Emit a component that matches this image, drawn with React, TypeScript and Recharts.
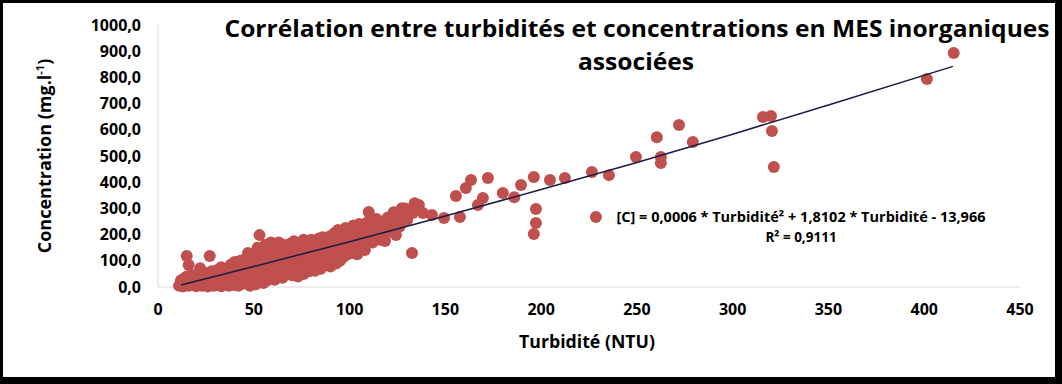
import { ScatterChart, Scatter, XAxis, YAxis } from "recharts";

// points are [turbidity (NTU), concentration (mg/l)]
const denseCluster: [number, number][] = [
  [11, 5], [12, 15], [12, 25], [13, 2], [13, 30], [14, 10], [14, 20], [15, 118], [15, 40], [16, 5],
  [16, 84], [17, 15], [17, 30], [18, 8], [18, 45], [19, 20], [20, 3], [20, 35],
  [21, 12], [21, 50], [22, 72], [22, 25], [23, 5], [23, 40], [24, 18], [24, 55], [25, 8], [25, 30],
  [26, 45], [26, 2], [27, 118], [27, 20], [28, 60], [28, 10], [29, 35], [29, 5], [30, 50], [30, 22],
  [31, 8], [31, 65], [32, 30], [32, 45], [33, 3], [33, 75], [34, 20], [34, 55], [35, 40], [35, 10],
  [36, 70], [36, 28], [37, 5], [37, 50], [38, 85], [38, 18], [39, 60], [39, 35], [40, 8], [40, 95],
  [41, 45], [41, 20], [42, 75], [42, 5], [43, 100], [43, 55], [44, 30], [44, 12], [45, 85], [45, 60],
  [46, 110], [46, 40], [47, 20], [47, 130], [48, 70], [48, 5], [49, 95], [49, 50], [50, 30], [50, 120],
  [51, 10], [51, 80], [52, 150], [52, 60], [53, 198], [53, 105], [54, 35], [54, 130], [55, 75], [55, 15],
  [56, 160], [56, 95], [57, 50], [57, 25], [58, 140], [58, 115], [59, 70], [59, 170], [60, 40], [60, 100],
  [61, 28], [61, 150], [62, 125], [62, 80], [63, 60], [63, 170], [64, 105], [64, 140], [65, 35], [65, 90],
  [66, 160], [66, 115], [67, 70], [67, 130], [68, 55], [68, 150], [69, 100], [69, 165], [70, 45], [70, 120],
  [71, 85], [71, 175], [72, 140], [72, 60], [73, 110], [73, 40], [74, 160], [74, 95], [75, 130], [75, 70],
  [76, 180], [76, 50], [77, 115], [77, 150], [78, 85], [78, 170], [79, 130], [79, 60], [80, 100], [80, 180],
  [81, 145], [81, 75], [82, 120], [82, 62], [83, 165], [83, 95], [84, 185], [84, 135], [85, 70], [85, 110],
  [86, 160], [86, 190], [87, 85], [87, 140], [88, 120], [88, 175], [89, 100], [89, 155], [90, 78], [90, 195],
  [91, 130], [91, 170], [92, 110], [92, 205], [93, 150], [93, 90], [94, 185], [94, 218], [95, 130], [95, 100],
  [96, 165], [96, 200], [97, 140], [97, 115], [98, 225], [98, 180], [99, 160], [99, 125], [100, 195], [100, 145],
  [101, 170], [101, 215], [102, 130], [102, 235], [103, 190], [103, 155], [104, 210], [104, 125], [105, 175], [105, 240],
  [106, 200], [106, 150], [107, 220], [107, 185], [108, 165], [109, 245], [109, 205], [110, 180], [110, 230],
  [111, 200], [111, 255], [112, 220], [112, 170], [113, 240], [114, 195], [114, 260], [115, 215], [116, 180],
  [117, 250], [118, 230], [119, 205], [120, 265],
  [121, 240], [122, 215], [123, 285], [125, 250], [126, 230], [128, 270], [129, 300], [130, 255], [131, 290], [134, 320],
];

const spreadPoints: [number, number][] = [
  [101.8, 198], [108, 141], [110, 286], [107, 237], [115.9, 237], [124.7, 237], [117.4, 187], [118.5, 176],
  [124.2, 198], [123.7, 267], [127.3, 301], [132.6, 130], [133, 282], [136.2, 313], [138.3, 282], [143, 275],
  [149.3, 263], [155.5, 347], [157.6, 267], [160.7, 378], [163.4, 408], [167, 313], [169.6, 340], [172.2, 416],
  [180, 359], [186, 343], [189.5, 389], [196.2, 420], [197.3, 298], [197.3, 244], [196.2, 202], [204.6, 408],
  [212.4, 416], [226.5, 439], [228.6, 267], [235.4, 427], [249.5, 496], [260.4, 572], [262.5, 496], [262.5, 473],
  [272, 618], [279.2, 553], [315.8, 649], [320, 653], [320.5, 595], [321.5, 458], [401.4, 794], [415.4, 893],
];

const trendTurb = [12, 50, 100, 150, 200, 250, 300, 350, 415];
const trendConc = [8, 78, 173, 271, 372, 475, 583, 695, 842];

const xTicks = [0, 50, 100, 150, 200, 250, 300, 350, 400, 450];
const yTicks = [0, 100, 200, 300, 400, 500, 600, 700, 800, 900, 1000];

const measures = [...denseCluster, ...spreadPoints].map(([t, c]) => ({ t, c }));
const trend = trendTurb.map((t, i) => ({ t, c: trendConc[i] }));

const FONT = "'Open Sans', 'Noto Sans', sans-serif";
const RED = "#C0504D";

const Dot = (props: any) => <circle cx={props.cx} cy={props.cy} r={6} fill={RED} />;

export default function App() {
  const tickStyle = { fill: "#000", fontSize: 16, fontWeight: 700, fontFamily: FONT };

  return (
    <div
      style={{
        position: "absolute",
        left: 0,
        top: 0,
        width: 1062,
        height: 384,
        boxSizing: "border-box",
        background: "#fff",
        borderTop: "3px solid #000",
        borderLeft: "3px solid #000",
        borderRight: "7px solid #000",
        borderBottom: "7px solid #000",
      }}
    >
      <ScatterChart width={1052} height={374} margin={{ top: 22, right: 35, bottom: 60, left: 95 }}>
        <XAxis
          type="number"
          dataKey="t"
          domain={[0, 450]}
          ticks={xTicks}
          height={30}
          stroke="#D9D9D9"
          tickLine={false}
          tickSize={0}
          tickMargin={17}
          tick={tickStyle}
          allowDataOverflow
        />
        <YAxis
          type="number"
          dataKey="c"
          domain={[0, 1000]}
          ticks={yTicks}
          width={60}
          stroke="#D9D9D9"
          tickLine={false}
          tickSize={0}
          tickMargin={17}
          tick={tickStyle}
          tickFormatter={(v: number) => v.toFixed(1).replace(".", ",")}
        />
        <Scatter data={measures} shape={Dot} isAnimationActive={false} />
        <Scatter
          data={trend}
          line={{ stroke: "#1B1B45", strokeWidth: 1.5 }}
          shape={() => <g />}
          isAnimationActive={false}
        />
      </ScatterChart>

      <svg
        width={1052}
        height={374}
        style={{ position: "absolute", left: 0, top: 0, pointerEvents: "none" }}
        fontFamily={FONT}
        fontWeight={700}
      >
        <text x={634} y={34} fontSize={24} textAnchor="middle" textLength={825} lengthAdjust="spacingAndGlyphs">
          Corrélation entre turbidités et concentrations en MES inorganiques
        </text>
        <text x={633} y={67} fontSize={24} textAnchor="middle" textLength={116} lengthAdjust="spacingAndGlyphs">
          associées
        </text>
        <text x={798} y={219} fontSize={13.5} textAnchor="middle" textLength={369} lengthAdjust="spacingAndGlyphs">
          [C] = 0,0006 * Turbidité² + 1,8102 * Turbidité - 13,966
        </text>
        <text x={798} y={239} fontSize={13.5} textAnchor="middle">
          R² = 0,9111
        </text>
        <text x={584} y={345} fontSize={17} textAnchor="middle" textLength={136} lengthAdjust="spacingAndGlyphs">
          Turbidité (NTU)
        </text>
        <text x={48} y={153} fontSize={18} textAnchor="middle" transform="rotate(-90, 48, 153)">
          Concentration (mg.l
          <tspan fontSize={11} dy={-7}>-1</tspan>
          <tspan dy={7}>)</tspan>
        </text>
      </svg>
    </div>
  );
}
